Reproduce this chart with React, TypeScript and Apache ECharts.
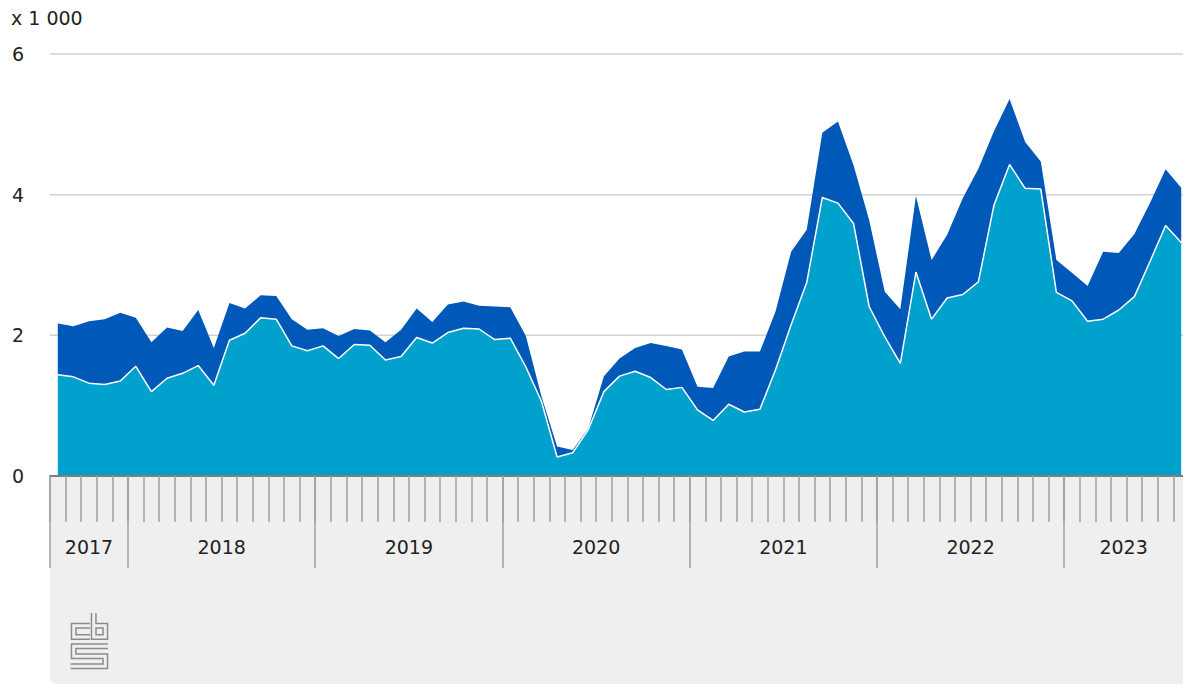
import React, { useEffect, useRef } from "react";
import * as echarts from "echarts";

const months: string[] = [
  "2017-08", "2017-09", "2017-10", "2017-11", "2017-12",
  "2018-01", "2018-02", "2018-03", "2018-04", "2018-05", "2018-06", "2018-07", "2018-08", "2018-09", "2018-10", "2018-11", "2018-12",
  "2019-01", "2019-02", "2019-03", "2019-04", "2019-05", "2019-06", "2019-07", "2019-08", "2019-09", "2019-10", "2019-11", "2019-12",
  "2020-01", "2020-02", "2020-03", "2020-04", "2020-05", "2020-06", "2020-07", "2020-08", "2020-09", "2020-10", "2020-11", "2020-12",
  "2021-01", "2021-02", "2021-03", "2021-04", "2021-05", "2021-06", "2021-07", "2021-08", "2021-09", "2021-10", "2021-11", "2021-12",
  "2022-01", "2022-02", "2022-03", "2022-04", "2022-05", "2022-06", "2022-07", "2022-08", "2022-09", "2022-10", "2022-11", "2022-12",
  "2023-01", "2023-02", "2023-03", "2023-04", "2023-05", "2023-06", "2023-07", "2023-08",
];

const years: string[] = ["2017", "2018", "2019", "2020", "2021", "2022", "2023"];

// lower (light blue) series
const lower: number[] = [
  1440, 1410, 1320, 1300, 1350,
  1560, 1200, 1390, 1460, 1570, 1290, 1930, 2030, 2250, 2230, 1850, 1780,
  1850, 1670, 1870, 1860, 1650, 1700, 1970, 1890, 2040, 2100, 2090, 1940,
  1960, 1550, 1060, 270, 330, 660, 1200, 1420, 1490, 1400, 1230, 1260,
  940, 790, 1020, 910, 950, 1510, 2150, 2750, 3960, 3880, 3590, 2410,
  1980, 1600, 2900, 2230, 2530, 2580, 2760, 3850, 4430, 4090, 4080, 2610,
  2490, 2200, 2230, 2360, 2550, 3050, 3560, 3320,
];

// upper (dark blue) series, stacked on top
const upper: number[] = [
  730, 720, 880, 930, 970,
  690, 700, 720, 600, 790, 530, 530, 350, 320, 330, 380, 300,
  250, 320, 220, 210, 250, 380, 410, 300, 400, 380, 330, 470,
  440, 440, 70, 150, 40, 20, 220, 250, 330, 490, 620, 540,
  330, 460, 680, 860, 820, 830, 1040, 750, 920, 1160, 830, 1230,
  640, 770, 1080, 840, 900, 1370, 1610, 1050, 930, 660, 390, 460,
  400, 500, 960, 810, 890, 830, 800, 780,
];

const yTicks: number[] = [0, 2000, 4000, 6000];
const unitLabel = "x 1 000";

const FONT = "'DejaVu Sans', Verdana, sans-serif";

export default function App() {
  const ref = useRef<HTMLDivElement>(null);

  useEffect(() => {
    if (!ref.current) return;
    const chart = echarts.init(ref.current, undefined, { renderer: "svg" });
    const tickStyle = { color: "#a0a0a0", width: 1.5 };
    const option: any = {
      animation: false,
      backgroundColor: "#ffffff",
      grid: { left: 50, top: 54, width: 1139, height: 422, outerBoundsMode: "none", containLabel: false },
      xAxis: [
        {
          type: "category",
          data: months,
          boundaryGap: true,
          position: "bottom",
          z: 10,
          axisLine: { show: true, lineStyle: { color: "#7d7d7d", width: 2 } },
          axisTick: { show: true, interval: 0, length: 46, lineStyle: tickStyle },
          axisLabel: { show: false },
          splitLine: { show: false },
        },
        {
          type: "category",
          data: months,
          boundaryGap: true,
          position: "bottom",
          z: 10,
          axisLine: { show: false },
          axisTick: {
            show: true,
            interval: (i: number) => i === 0 || months[i].endsWith("-01"),
            length: 92,
            lineStyle: tickStyle,
          },
          axisLabel: { show: false },
          splitLine: { show: false },
        },
      ],
      yAxis: {
        type: "value",
        min: yTicks[0],
        max: yTicks[yTicks.length - 1],
        interval: yTicks[1] - yTicks[0],
        z: 10,
        axisLine: { show: false },
        axisTick: { show: false },
        splitLine: { show: false },
        axisLabel: {
          formatter: (v: number) => String(v / 1000),
          align: "left",
          margin: 38,
          fontSize: 19,
          fontFamily: FONT,
          color: "#222",
        },
      },
      series: [
        {
          type: "line",
          name: "lower",
          data: lower,
          stack: "total",
          symbol: "none",
          z: 3,
          lineStyle: { color: "#ffffff", width: 1.5 },
          itemStyle: { color: "#00a1cd" },
          areaStyle: { color: "#00a1cd", opacity: 1 },
        },
        {
          type: "line",
          name: "upper",
          data: upper,
          stack: "total",
          symbol: "none",
          z: 2,
          lineStyle: { width: 0, opacity: 0 },
          itemStyle: { color: "#0058b8" },
          areaStyle: { color: "#0058b8", opacity: 1 },
        },
      ],
    };
    chart.setOption(option);

    const W = chart.getWidth();
    const px = (m: string) => chart.convertToPixel({ xAxisIndex: 0 }, m) as number;
    const py = (v: number) => chart.convertToPixel({ yAxisIndex: 0 }, v) as number;
    const band = px(months[1]) - px(months[0]);
    const left = px(months[0]) - band / 2;
    const axisY = py(0);

    const gridLines = yTicks
      .filter((v) => v > 0)
      .map((v) => ({
        type: "line",
        z: 0,
        shape: { x1: left, y1: py(v), x2: W, y2: py(v) },
        style: { stroke: "#d2d2d2", lineWidth: 1.5 },
      }));

    const yearLabels = years.map((y) => {
      const idx = months.map((m, i) => (m.startsWith(y) ? i : -1)).filter((i) => i >= 0);
      const x0 = Math.max(left, px(months[idx[0]]) - band / 2);
      const x1 = Math.min(W, px(months[idx[idx.length - 1]]) + band / 2);
      return {
        type: "text",
        z: 20,
        x: (x0 + x1) / 2,
        y: axisY + 71,
        style: {
          text: y,
          fill: "#222",
          font: `19px ${FONT}`,
          align: "center",
          verticalAlign: "middle",
        },
      };
    });

    const logoStroke = (points: number[][]) => [
      { type: "polyline", z: 20, shape: { points }, style: { stroke: "#8c8c8c", lineWidth: 6, fill: null, lineJoin: "miter" } },
      { type: "polyline", z: 21, shape: { points }, style: { stroke: "#efefef", lineWidth: 3, fill: null, lineJoin: "miter" } },
    ];

    const logo = [
      ...logoStroke([[90, 625.7], [73.7, 625.7], [73.7, 637], [90, 637]]),
      ...logoStroke([[93.7, 613], [93.7, 637], [105.3, 637], [105.3, 625.7], [93.7, 625.7]]),
      ...logoStroke([[108, 646.3], [73.7, 646.3], [73.7, 656.3], [105.3, 656.3], [105.3, 666.3], [70.7, 666.3]]),
    ];

    chart.setOption({
      graphic: [
        ...gridLines,
        {
          type: "rect",
          z: 1,
          shape: { x: left, y: axisY, width: W - left + 10, height: 684 - axisY, r: [0, 0, 0, 6] },
          style: { fill: "#efefef" },
        },
        {
          type: "text",
          z: 20,
          x: 11,
          y: 18,
          style: { text: unitLabel, fill: "#222", font: `19px ${FONT}`, align: "left", verticalAlign: "middle" },
        },
        ...yearLabels,
        ...logo,
      ],
    });

    return () => chart.dispose();
  }, []);

  return (
    <div
      ref={ref}
      style={{ position: "fixed", left: 0, top: 0, width: 1183, height: 684, background: "#fff" }}
    />
  );
}
